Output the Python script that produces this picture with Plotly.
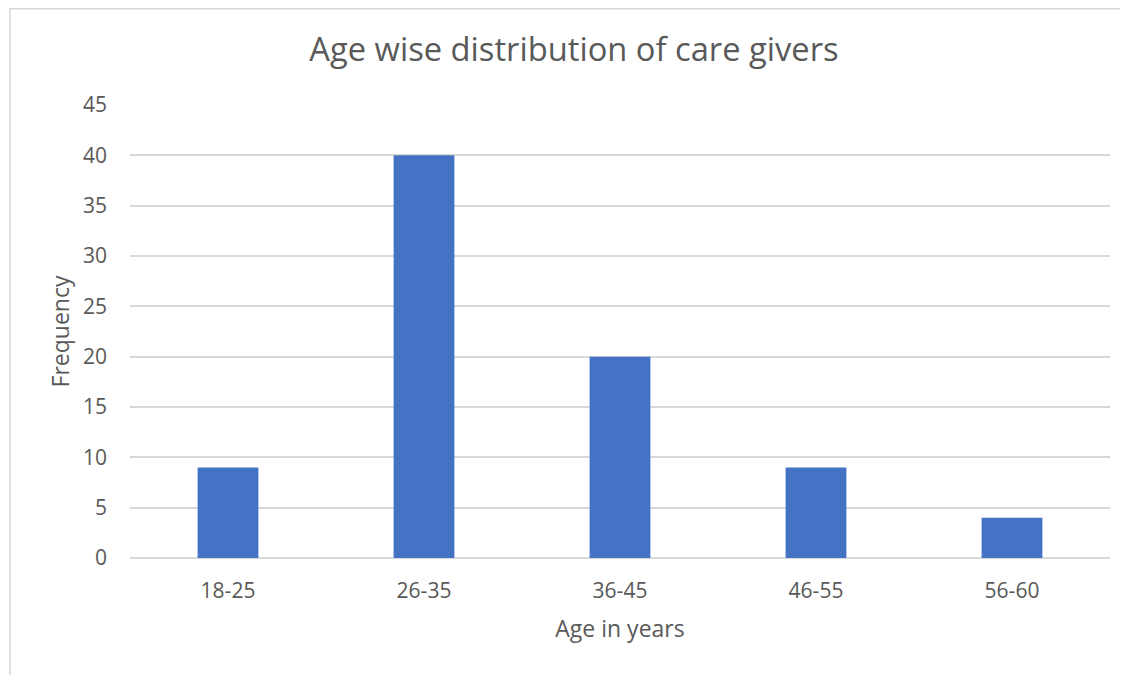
import plotly.graph_objects as go

categories = ["18-25", "26-35", "36-45", "46-55", "56-60"]
frequency = [9, 40, 20, 9, 4]
y_ticks = [0, 5, 10, 15, 20, 25, 30, 35, 40, 45]

# page has an 8px body margin; figure placed at (8, 8)
W, H = 1120, 667
L, R, T, B = 122, 18, 97, 117
pw, ph = W - L - R, H - T - B

text_color = "#595959"
grid_color = "#D9D9D9"
font_family = "Open Sans"

fig = go.Figure(go.Bar(x=categories, y=frequency, marker=dict(color="#4472C4", line=dict(width=0))))

fig.update_layout(
    width=W, height=H,
    margin=dict(l=L, r=R, t=T, b=B, autoexpand=False),
    paper_bgcolor="white", plot_bgcolor="white",
    bargap=0.69,
    showlegend=False,
    font=dict(family=font_family, color=text_color),
    title=dict(text="Age wise distribution of care givers", x=566 / W, xref="container", xanchor="center",
               y=1 - 42 / H, yanchor="middle",
               font=dict(size=32.7, color=text_color, family=font_family)),
    xaxis=dict(title=dict(text="Age in years", font=dict(size=23), standoff=17),
               tickfont=dict(size=21), showgrid=False, zeroline=False, showline=False, ticks="",
               ticklabelstandoff=18),
    yaxis=dict(title=dict(text="Frequency", font=dict(size=23), standoff=6),
               range=[0, 45], tickvals=y_ticks, tickfont=dict(size=21),
               showgrid=True, gridcolor=grid_color, gridwidth=1.5, zeroline=True, zerolinecolor=grid_color,
               zerolinewidth=1.5, showline=False, ticks="", ticklabelstandoff=22),
    shapes=[dict(type="rect", xref="paper", yref="paper",
                 x0=(2 - L) / pw, x1=(W + 20 - L) / pw,
                 y0=-(H + 20 - T - ph) / ph, y1=1 + (T - 0.75) / ph,
                 line=dict(color=grid_color, width=1.5), fillcolor="rgba(0,0,0,0)", layer="below")],
)

fig.write_html("out.html")
